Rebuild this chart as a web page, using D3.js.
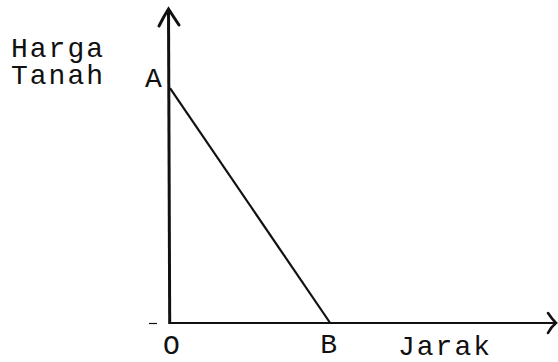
<!DOCTYPE html>
<html><head><meta charset="utf-8">
<script src="https://cdn.jsdelivr.net/npm/d3@7/dist/d3.min.js"></script>
<style>
html,body{margin:0;padding:0;background:#fff;overflow:hidden;}
svg{display:block;}
svg text{font-family:"Liberation Mono","DejaVu Sans Mono",monospace;fill:#111;}
</style></head>
<body>
<svg id="c" width="558" height="362"></svg>
<script>
// Data (conceptual units)
const yAxisLabel = ["Harga", "Tanah"];
const xAxisLabel = ["Jarak"];
const pointNames = ["A", "O", "B"];
const lineX = [0, 4.15];      // A -> B  x-values
const lineY = [7.46, 0];      // A -> B  y-values
const xDomain = [0, 10];
const yDomain = [0, 10];

const svg = d3.select("#c");
const x = d3.scaleLinear().domain(xDomain).range([170, 556]);
const y = d3.scaleLinear().domain(yDomain).range([323, 8]);

const ink = "#111";

// zero tick on the y axis (small dash left of origin)
const yAxis = d3.axisLeft(y).tickValues([0]).tickSize(8).tickFormat("");
const gy = svg.append("g").attr("transform", `translate(${x(0) - 13},0)`).call(yAxis);
gy.select(".domain").remove();
gy.selectAll(".tick line").attr("stroke", ink).attr("stroke-width", 1.2);

// x axis line
svg.append("line")
  .attr("x1", x(0)).attr("x2", x(10) - 1)
  .attr("y1", y(0)).attr("y2", y(0))
  .attr("stroke", ink).attr("stroke-width", 2);
// y axis line (thicker)
svg.append("line")
  .attr("x1", x(0) - 1.5).attr("x2", x(0) - 0.3)
  .attr("y1", y(10) + 1).attr("y2", y(0) + 1)
  .attr("stroke", ink).attr("stroke-width", 3);

// arrowheads
svg.append("path")
  .attr("d", `M${x(0) - 11},${y(10) + 18} Q${x(0) - 6},${y(10) + 8} ${x(0) - 1.5},${y(10) + 1} Q${x(0) + 3},${y(10) + 8} ${x(0) + 9},${y(10) + 17}`)
  .attr("fill", "none").attr("stroke", ink).attr("stroke-width", 3).attr("stroke-linecap", "round");
svg.append("path")
  .attr("d", `M${x(10) - 8},${y(0) - 10} Q${x(10) - 4},${y(0) - 4} ${x(10)},${y(0)} Q${x(10) - 5},${y(0) + 4} ${x(10) - 8},${y(0) + 10}`)
  .attr("fill", "none").attr("stroke", ink).attr("stroke-width", 2.6).attr("stroke-linecap", "round");

// line A-B
const pts = lineX.map((v, i) => [x(v), y(lineY[i])]);
svg.append("path")
  .attr("d", d3.line()(pts))
  .attr("fill", "none").attr("stroke", ink).attr("stroke-width", 2.2);

// labels
const fs = 28, ls = 2;
const yl = svg.append("text").attr("x", 11).attr("y", 57).attr("font-size", fs).attr("letter-spacing", ls);
yl.selectAll("tspan").data(yAxisLabel).join("tspan")
  .attr("x", 11).attr("dy", (d, i) => i === 0 ? 0 : 27).text(d => d);
svg.append("text").attr("x", x(0) - 25).attr("y", y(lineY[0]) - 1).attr("font-size", fs).text(pointNames[0]);
svg.append("text").attr("x", x(0) - 7).attr("y", 354).attr("font-size", fs).text(pointNames[1]);
svg.append("text").attr("x", x(lineX[1]) - 10).attr("y", 353).attr("font-size", fs).text(pointNames[2]);
svg.append("text").attr("x", 398).attr("y", 355).attr("font-size", fs).attr("letter-spacing", ls).text(xAxisLabel[0]);
</script>
</body></html>
